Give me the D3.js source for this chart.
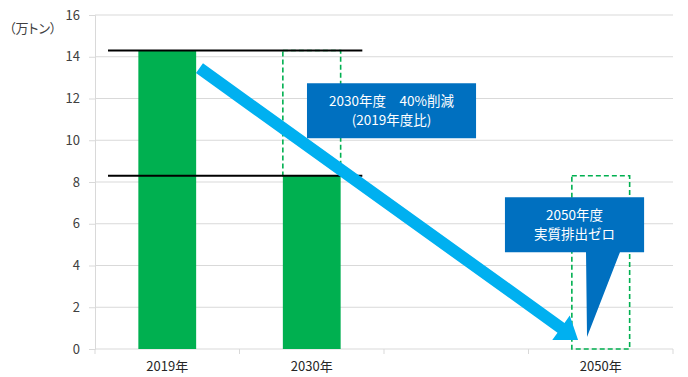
<!DOCTYPE html>
<html>
<head>
<meta charset="utf-8">
<script src="https://d3js.org/d3.v7.min.js"></script>
<style>
  body { margin: 0; background: #fff; }
  text { font-family: "Noto Sans CJK JP", "Noto Sans", sans-serif; }
  .unit { font-feature-settings: "palt"; }
</style>
</head>
<body>
<div id="chart"></div>
<script>
// data
var categories = ["2019年", "2030年", "", "2050年"];
var emissions = [14.3, 8.3, null, 0];
var yTicks = [0, 2, 4, 6, 8, 10, 12, 14, 16];
var unitLabel = "（万トン）";
var baseLevel = 14.3, targetLevel = 8.3;
var note2030 = ["2030年度　40%削減", "(2019年度比)"];
var note2050 = ["2050年度", "実質排出ゼロ"];

var margin = {top: 15, right: 15, bottom: 28, left: 95},
    width = 688 - margin.left - margin.right,
    height = 377 - margin.top - margin.bottom;

var svg = d3.select("#chart").append("svg")
    .attr("width", width + margin.left + margin.right)
    .attr("height", height + margin.top + margin.bottom)
  .append("g")
    .attr("transform", "translate(" + margin.left + "," + margin.top + ")");

var x = d3.scaleBand().domain(categories).range([0, width])
    .paddingInner(0.6).paddingOuter(0.3);
// continuous position in "category units" for annotations
var xi = d3.scaleLinear().domain([0, categories.length]).range([0, width]);
var y = d3.scaleLinear().domain([0, 16]).range([height, 0]);

// grid
svg.selectAll(".grid").data(yTicks.slice(1)).enter().append("line")
    .attr("x1", 0).attr("x2", width)
    .attr("y1", function(d) { return y(d); }).attr("y2", function(d) { return y(d); })
    .attr("stroke", "#d9d9d9").attr("stroke-width", 1);

// y axis
var yAxis = svg.append("g")
    .call(d3.axisLeft(y).tickValues(yTicks).tickSize(6).tickPadding(9));
yAxis.select(".domain").attr("stroke", "#d9d9d9");
yAxis.selectAll(".tick line").attr("stroke", "#d9d9d9");
yAxis.selectAll("text").attr("font-size", 13).attr("fill", "#404040")
    .style("font-family", "'Noto Sans CJK JP'");

svg.append("text").attr("class", "unit")
    .attr("x", -86).attr("y", 33 - margin.top)
    .attr("font-size", 13).attr("fill", "#404040")
    .text(unitLabel);

// x axis with boundary ticks
svg.append("line").attr("x1", 0).attr("x2", width)
    .attr("y1", height).attr("y2", height).attr("stroke", "#d9d9d9");
svg.selectAll(".xtick").data(d3.range(categories.length + 1)).enter().append("line")
    .attr("x1", function(d) { return xi(d); }).attr("x2", function(d) { return xi(d); })
    .attr("y1", height).attr("y2", height + 5).attr("stroke", "#d9d9d9");
svg.selectAll(".xlab").data(categories).enter().append("text")
    .attr("x", function(d) { return x(d) + x.bandwidth() / 2; })
    .attr("y", height + 22)
    .attr("text-anchor", "middle").attr("font-size", 13).attr("fill", "#262626")
    .text(function(d) { return d; });

// bars
svg.selectAll(".bar").data(categories.map(function(c, i) { return {c: c, v: emissions[i]}; })
    .filter(function(d) { return d.v; }))
  .enter().append("rect")
    .attr("x", function(d) { return x(d.c); })
    .attr("width", x.bandwidth())
    .attr("y", function(d) { return y(d.v); })
    .attr("height", function(d) { return height - y(d.v); })
    .attr("fill", "#00b050");

// dashed reduction boxes
function dashBox(cat, v0, v1) {
  svg.append("rect")
    .attr("x", x(cat)).attr("width", x.bandwidth())
    .attr("y", y(v1)).attr("height", y(v0) - y(v1))
    .attr("fill", "none").attr("stroke", "#00b050")
    .attr("stroke-width", 1.6).attr("stroke-dasharray", "5,3");
}
dashBox("2030年", targetLevel, baseLevel);
dashBox("2050年", 0, targetLevel);

// reference lines
[baseLevel, targetLevel].forEach(function(v) {
  svg.append("line")
    .attr("x1", xi(0.09)).attr("x2", xi(1.85))
    .attr("y1", y(v)).attr("y2", y(v))
    .attr("stroke", "#000").attr("stroke-width", 2);
});

// big arrow
var a0 = [xi(0.723), y(13.45)], a1 = [xi(3.343), y(0.43)];
var ang = Math.atan2(a1[1] - a0[1], a1[0] - a0[0]);
var headLen = 21, headW = 15, shaftW = 6;
function pt(d, s) {
  return [a0[0] + d * Math.cos(ang) - s * Math.sin(ang),
          a0[1] + d * Math.sin(ang) + s * Math.cos(ang)];
}
var L = Math.hypot(a1[0] - a0[0], a1[1] - a0[1]);
var arrowPts = [pt(0, -shaftW), pt(L - headLen, -shaftW), pt(L - headLen, -headW),
                pt(L, 0), pt(L - headLen, headW), pt(L - headLen, shaftW), pt(0, shaftW)];
svg.append("path").attr("d", d3.line()(arrowPts) + "Z").attr("fill", "#00b0f0");

// callouts
function callout(x0, x1, v0, v1, lines, tail) {
  var g = svg.append("g");
  var d = [[xi(x0), y(v0)], [xi(x1), y(v0)], [xi(x1), y(v1)]];
  if (tail) {
    d.push([xi(tail[1]), y(v1)], [xi(tail[2]), y(tail[3])], [xi(tail[0]), y(v1)]);
  }
  d.push([xi(x0), y(v1)]);
  g.append("path").attr("d", d3.line()(d) + "Z").attr("fill", "#0070c0");
  var cx = (xi(x0) + xi(x1)) / 2, cy = (y(v0) + y(v1)) / 2;
  lines.forEach(function(t, i) {
    g.append("text").attr("x", cx).attr("y", cy + (i - 0.5) * 18.5 + 5)
      .attr("text-anchor", "middle").attr("font-size", 13.5).attr("fill", "#fff")
      .text(t);
  });
}
callout(1.467, 2.637, 12.73, 10.1, note2030, null);
callout(2.837, 3.80, 7.27, 4.64, note2050, [3.398, 3.633, 3.405, 0.57]);
</script>
</body>
</html>
